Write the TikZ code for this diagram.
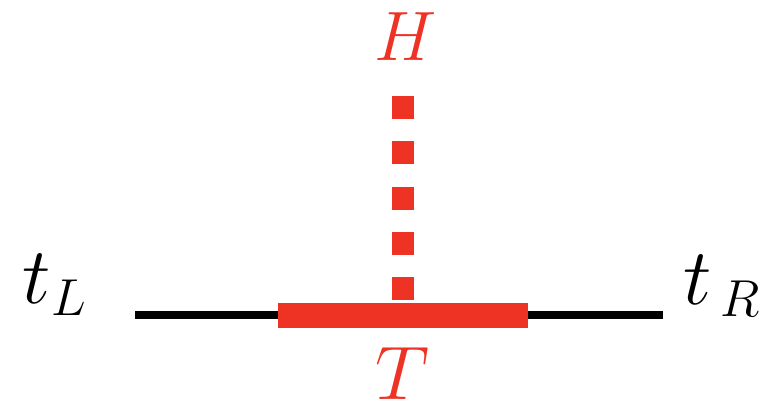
\RequirePackage{fix-cm}
\documentclass[tikz,border=0pt]{standalone}
\definecolor{myred}{RGB}{238,50,36}
\newcommand{\subtxt}[1]{\hbox{\fontsize{52}{54}\selectfont$#1$}}
\begin{document}
\begin{tikzpicture}[x=1pt,y=-1pt,
  lab/.style={inner sep=0pt,outer sep=0pt},
  bigfont/.style={font=\fontsize{80}{84}\selectfont},
  tfont/.style={font=\fontsize{76}{80}\selectfont},
  hfont/.style={font=\fontsize{70}{74}\selectfont},
  blackline/.style={line width=7.5pt,black},
  redbar/.style={line width=25pt,myred},
  reddash/.style={line width=22.5pt,myred,dash pattern=on 23pt off 22.3pt}]
\useasboundingbox (0,0) rectangle (771,405);
\coordinate (lL) at (135,315);
\coordinate (lR) at (663,315);
\coordinate (bL) at (277.5,315);
\coordinate (bR) at (528,315);
\coordinate (dT) at (403,96);
\coordinate (dB) at (403,300);
\draw[blackline] (lL) -- (lR);
\draw[redbar] (bL) -- (bR);
\draw[reddash] (dT) -- (dB);
\node[lab,hfont,text=myred,anchor=base] (H) at (406,60) {$H$};
\node[lab,tfont,text=myred,anchor=base] (T) at (402,399) {$T$};
\node[lab,bigfont,anchor=base west] (tL) at (22,303) {$t_{\kern1pt\subtxt{L}}$};
\node[lab,bigfont,anchor=base west] (tR) at (683,304) {$t_{\kern9pt\subtxt{R}}$};
\end{tikzpicture}
\end{document}
